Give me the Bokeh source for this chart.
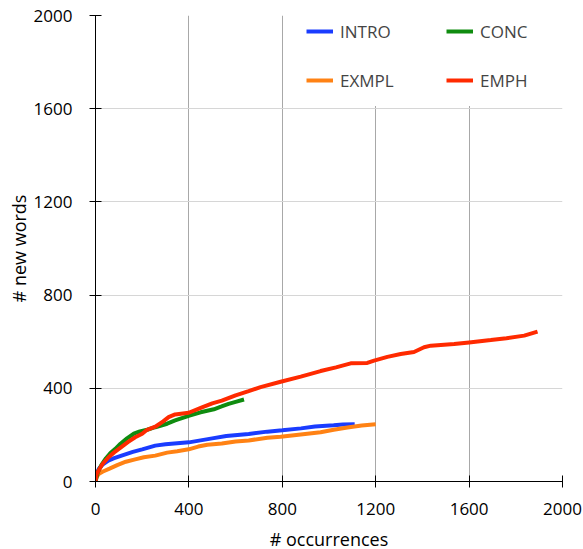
from bokeh.plotting import figure
from bokeh.models import Legend, LegendItem, FixedTicker
from bokeh.embed import file_html
from bokeh.resources import INLINE

# ---- data ----
intro_x = [0, 5, 15, 30, 55, 80, 115, 160, 200, 256, 300, 400, 500, 560, 656, 736, 800, 880, 940, 1020, 1060, 1110]
intro_y = [0, 35, 55, 72, 90, 100, 112, 127, 138, 154, 160, 168, 185, 195, 204, 214, 220, 228, 236, 241, 245, 246]

exmpl_x = [0, 5, 15, 30, 60, 93, 130, 170, 207, 256, 307, 350, 399, 440, 479, 541, 600, 656, 736, 793, 879, 964, 1020, 1079, 1140, 1200]
exmpl_y = [0, 20, 33, 42, 55, 70, 85, 95, 104, 111, 124, 130, 138, 150, 158, 163, 172, 176, 188, 192, 202, 211, 222, 232, 240, 246]

conc_x = [0, 10, 25, 45, 64, 85, 107, 135, 164, 190, 221, 256, 307, 341, 399, 450, 507, 540, 570, 600, 636]
conc_y = [0, 40, 70, 100, 122, 140, 162, 185, 205, 215, 222, 233, 248, 262, 282, 297, 310, 322, 333, 342, 352]

emph_x = [0, 5, 13, 30, 56, 80, 113, 140, 170, 200, 221, 256, 290, 313, 341, 399, 456, 500, 541, 600, 656, 707,
          793, 879, 964, 1030, 1093, 1164, 1193, 1250, 1307, 1364, 1407, 1436, 1536, 1600, 1693, 1760, 1836, 1893]
emph_y = [0, 30, 47, 75, 104, 125, 150, 170, 190, 205, 222, 235, 258, 276, 288, 295, 318, 335, 347, 370, 388, 405,
          428, 450, 474, 490, 507, 509, 519, 535, 547, 556, 576, 583, 590, 597, 607, 615, 626, 643]

series_names = ["INTRO", "CONC", "EXMPL", "EMPH"]
x_ticks = [0, 400, 800, 1200, 1600, 2000]
y_ticks = [0, 400, 800, 1200, 1600, 2000]

colors = {"INTRO": "#1a3cff", "CONC": "#0f8c0f", "EXMPL": "#ff8214", "EMPH": "#ff2a00"}
FONT = "Open Sans"

p = figure(frame_width=467, frame_height=466, x_range=(0, 2000), y_range=(0, 2000),
           min_border_left=95, min_border_right=21, min_border_top=15, min_border_bottom=68,
           output_backend="svg", toolbar_location=None)
p.outline_line_color = None
p.background_fill_color = "white"

r_intro = p.line(intro_x, intro_y, line_width=4, color=colors["INTRO"])
r_exmpl = p.line(exmpl_x, exmpl_y, line_width=4, color=colors["EXMPL"])
r_conc = p.line(conc_x, conc_y, line_width=4, color=colors["CONC"])
r_emph = p.line(emph_x, emph_y, line_width=4, color=colors["EMPH"])

renderers = {"INTRO": r_intro, "CONC": r_conc, "EXMPL": r_exmpl, "EMPH": r_emph}

for ax, ticks in ((p.xaxis[0], x_ticks), (p.yaxis[0], y_ticks)):
    ax.ticker = FixedTicker(ticks=ticks)
    ax.minor_tick_line_color = None
    ax.major_tick_in = 6
    ax.major_tick_out = 6
    ax.axis_line_color = "black"
    ax.major_tick_line_color = "black"
    ax.major_label_text_font = FONT
    ax.major_label_text_font_size = "17px"
    ax.major_label_text_color = "black"
    ax.axis_label_text_font = FONT
    ax.axis_label_text_font_size = "18px"
    ax.axis_label_text_font_style = "normal"
    ax.axis_label_text_color = "black"

p.xaxis.axis_label = "# occurrences"
p.yaxis.axis_label = "# new words"
p.xaxis.major_label_standoff = 15
p.yaxis.major_label_standoff = 17
p.xaxis.axis_label_standoff = 9
p.yaxis.axis_label_standoff = 0

p.xgrid.grid_line_color = "#a8a8a8"
p.ygrid.grid_line_color = "#d6d6d6"
p.xgrid.ticker = FixedTicker(ticks=x_ticks)
p.ygrid.ticker = FixedTicker(ticks=y_ticks)

legend = Legend(items=[LegendItem(label=n, renderers=[renderers[n]]) for n in series_names],
                orientation="horizontal", ncols=2,
                location=(206, 375), padding=4, spacing=7,
                glyph_width=27, glyph_height=42, label_height=42, label_width=99,
                label_standoff=7, margin=0,
                label_text_font=FONT, label_text_font_size="17px",
                border_line_color="white", border_line_width=1,
                background_fill_color="white", background_fill_alpha=1.0)
p.add_layout(legend)

open("out.html", "w").write(file_html(p, INLINE))
